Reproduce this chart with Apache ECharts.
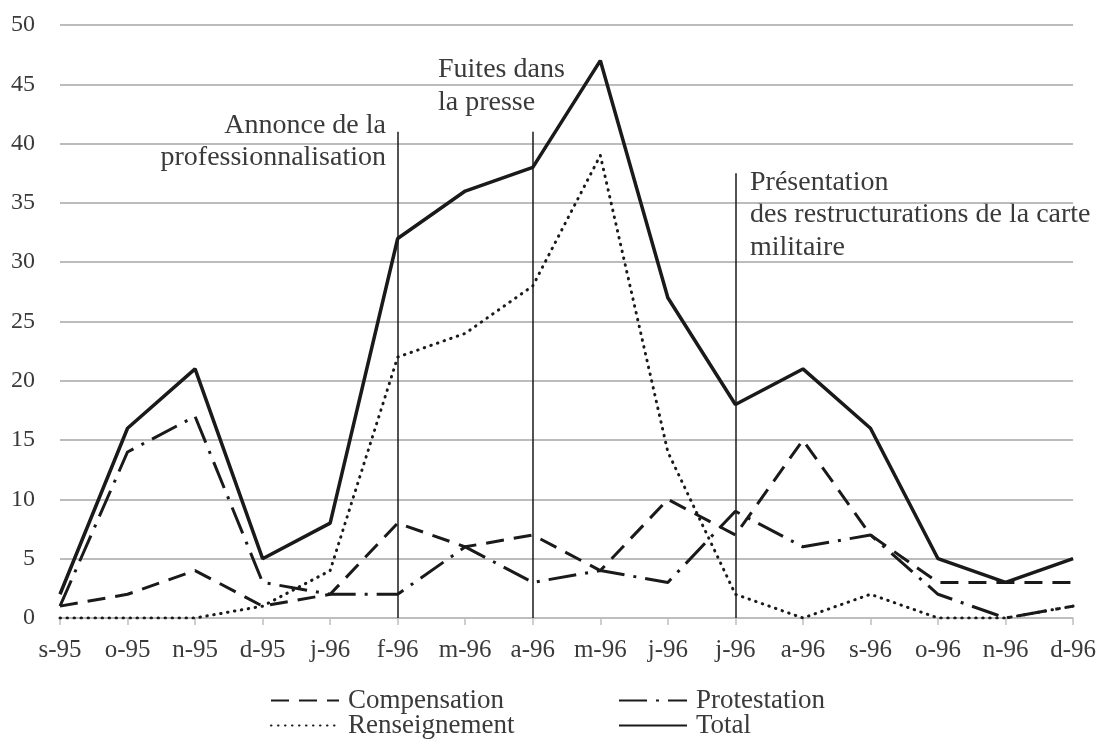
<!DOCTYPE html>
<html>
<head>
<meta charset="utf-8">
<script src="https://cdn.jsdelivr.net/npm/echarts@6/dist/echarts.min.js"></script>
<style>
  html, body { margin: 0; padding: 0; background: #fff; }
  #main { width: 1099px; height: 742px; }
</style>
</head>
<body>
<div id="main"></div>
<script>
var months = ['s-95', 'o-95', 'n-95', 'd-95', 'j-96', 'f-96', 'm-96', 'a-96',
              'm-96', 'j-96', 'j-96', 'a-96', 's-96', 'o-96', 'n-96', 'd-96'];
var compensation  = [1, 2, 4, 1, 2, 8, 6, 7, 4, 10, 7, 15, 7, 3, 3, 3];
var protestation  = [1, 14, 17, 3, 2, 2, 6, 3, 4, 3, 9, 6, 7, 2, 0, 1];
var renseignement = [0, 0, 0, 1, 4, 22, 24, 28, 39, 14, 2, 0, 2, 0, 0, 1];
var total         = [2, 16, 21, 5, 8, 32, 36, 38, 47, 27, 18, 21, 16, 5, 3, 5];

// événements : index du mois et hauteur du trait vertical
var eventIdx = [5, 7, 10];
var eventTop = [41, 41, 37.5];

var FONT = 'Liberation Serif';
var TXT = '#3a3a3a';

var myChart = echarts.init(document.getElementById('main'));

var markData = [];
for (var i = 0; i < eventIdx.length; i++) {
    markData.push([
        { coord: [eventIdx[i], 0] },
        { coord: [eventIdx[i], eventTop[i]] }
    ]);
}

var option = {
    animation: false,
    textStyle: { fontFamily: FONT },
    grid: { left: 60, right: 25, top: 25, bottom: 124, containLabel: false },
    legend: [
        { data: ['Compensation'], left: 270, top: 687 },
        { data: ['Protestation'], left: 618, top: 687 },
        { data: ['Renseignement'], left: 270, top: 712 },
        { data: ['Total'], left: 618, top: 712 }
    ].map(function (l) {
        l.itemWidth = 68;
        l.itemHeight = 14;
        l.itemGap = 6;
        l.padding = 0;
        l.itemStyle = { opacity: 0 };
        l.textStyle = { fontFamily: FONT, fontSize: 27, color: TXT, padding: [0, 0, 0, 4] };
        return l;
    }),
    xAxis: {
        type: 'category',
        data: months,
        boundaryGap: false,
        axisLine: { lineStyle: { color: '#bfbfbf', width: 1.5 } },
        axisTick: { show: true, interval: 0, length: 7, lineStyle: { color: '#bfbfbf', width: 1.5 } },
        axisLabel: { interval: 0, fontFamily: FONT, fontSize: 25, color: TXT, margin: 20 },
        splitLine: { show: false }
    },
    yAxis: {
        type: 'value',
        min: 0,
        max: 50,
        interval: 5,
        axisLine: { show: false },
        axisTick: { show: false },
        axisLabel: { fontFamily: FONT, fontSize: 24, color: TXT, margin: 25 },
        splitLine: { lineStyle: { color: '#a6a6a6', width: 1.5 } }
    },
    series: [
        {
            name: 'Compensation',
            type: 'line',
            data: compensation,
            symbol: 'none',
            color: '#1a1a1a',
            lineStyle: { color: '#1a1a1a', width: 3, type: [18, 10] },
            z: 3
        },
        {
            name: 'Protestation',
            type: 'line',
            data: protestation,
            symbol: 'none',
            color: '#1a1a1a',
            lineStyle: { color: '#1a1a1a', width: 3, type: [28, 9, 3, 9] },
            z: 3
        },
        {
            name: 'Renseignement',
            type: 'line',
            data: renseignement,
            symbol: 'none',
            color: '#1a1a1a',
            lineStyle: { color: '#1a1a1a', width: 3, type: [0.5, 6.5], cap: 'round' },
            z: 3
        },
        {
            name: 'Total',
            type: 'line',
            data: total,
            symbol: 'none',
            color: '#1a1a1a',
            lineStyle: { color: '#1a1a1a', width: 3.5 },
            z: 4,
            markLine: {
                silent: true,
                symbol: 'none',
                label: { show: false },
                lineStyle: { color: '#1a1a1a', width: 1.5, type: 'solid' },
                data: markData
            }
        }
    ],
    graphic: [
        {
            type: 'text', x: 386, y: 110,
            style: { text: 'Annonce de la\nprofessionnalisation', align: 'right',
                     font: '28px "' + FONT + '"', fill: TXT, lineHeight: 32 }
        },
        {
            type: 'text', x: 438, y: 53,
            style: { text: 'Fuites dans\nla presse',
                     font: '28px "' + FONT + '"', fill: TXT, lineHeight: 33 }
        },
        {
            type: 'text', x: 750, y: 166,
            style: { text: 'Présentation\ndes restructurations de la carte\nmilitaire',
                     font: '28px "' + FONT + '"', fill: TXT, lineHeight: 32.5 }
        }
    ]
};

myChart.setOption(option);
</script>
</body>
</html>
